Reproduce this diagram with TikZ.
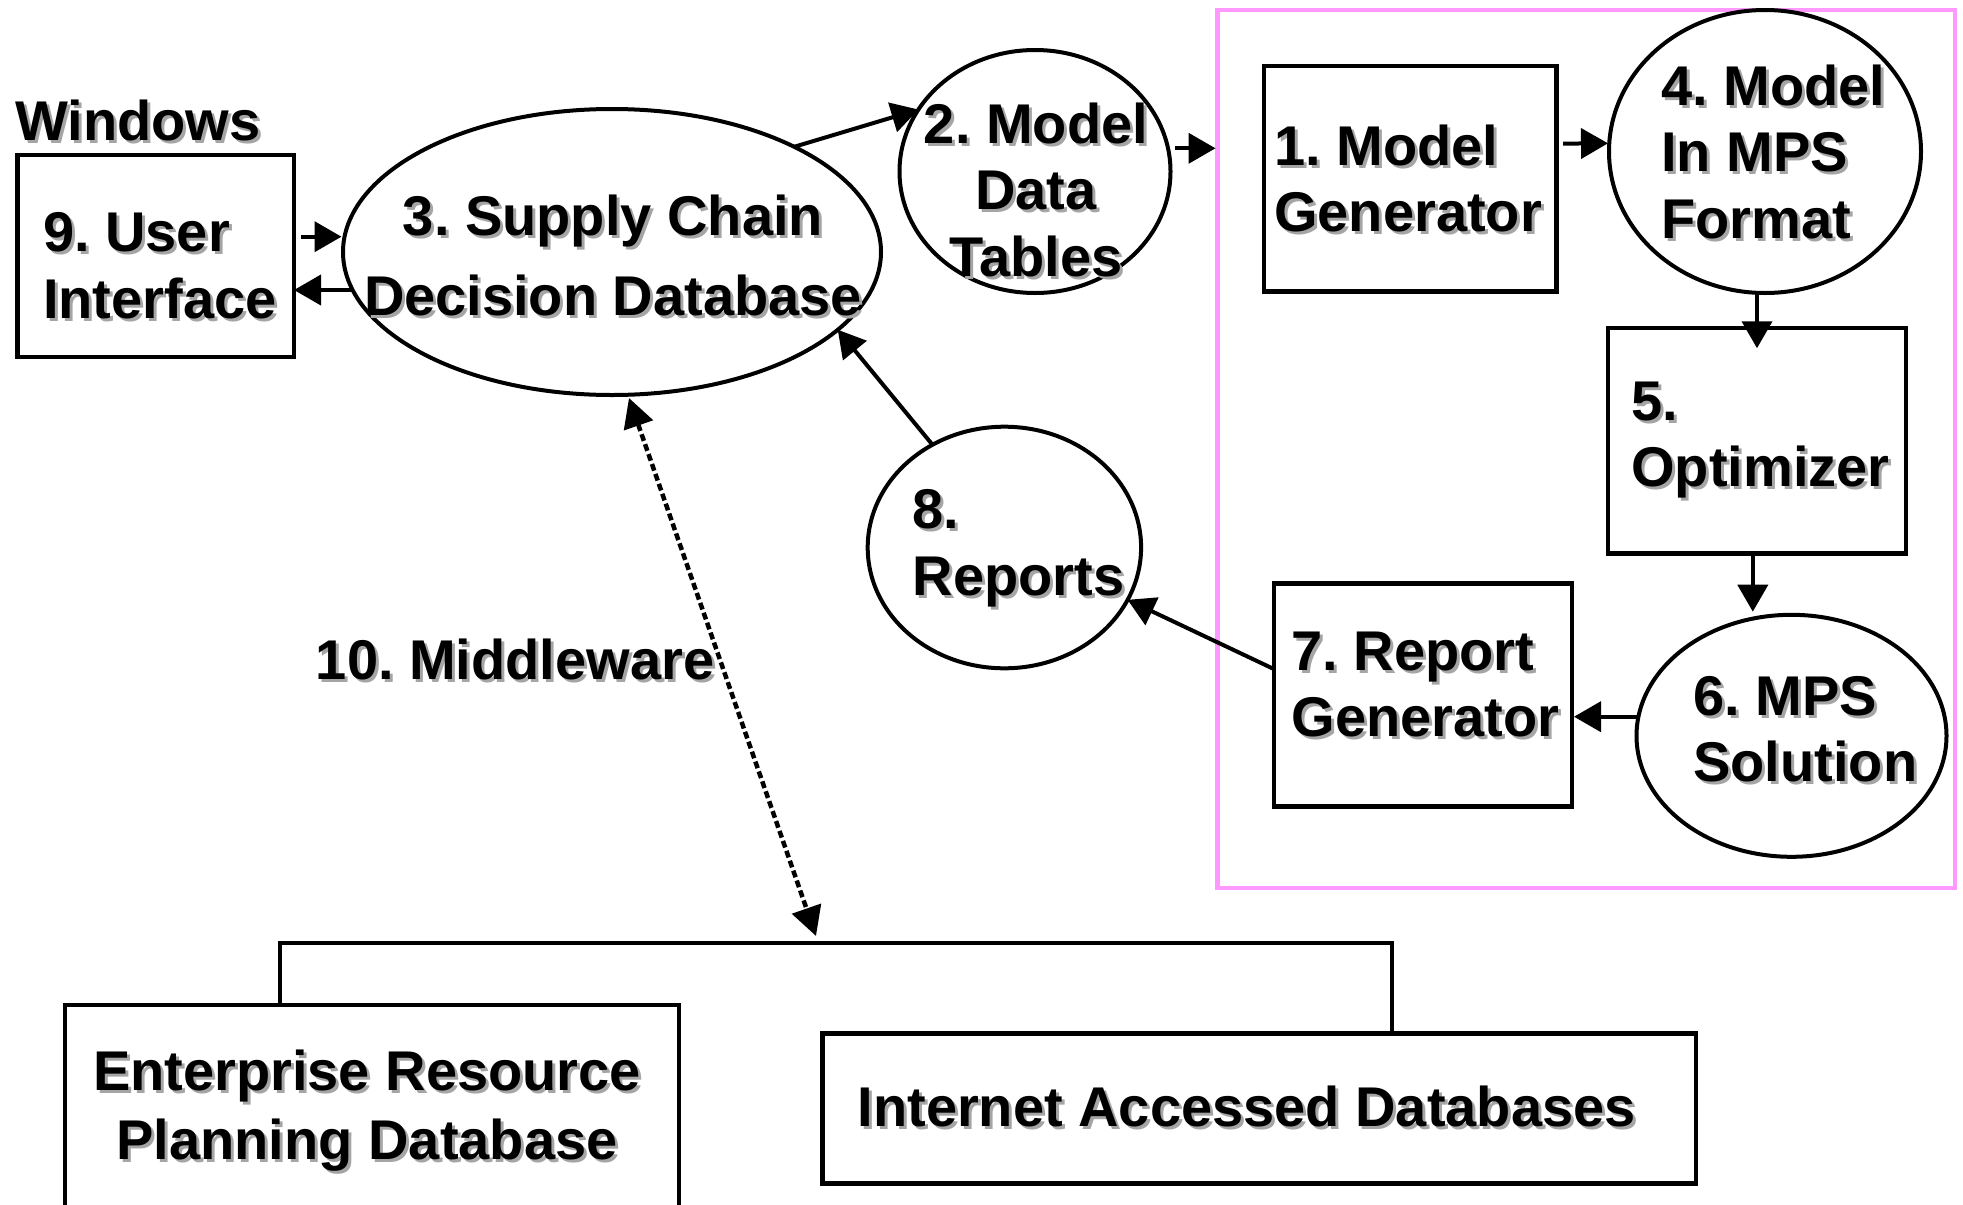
\documentclass[tikz,border=0pt]{standalone}
\usepackage{fontspec}
\setmainfont{Liberation Sans}
\usetikzlibrary{shapes.geometric,arrows.meta}
\definecolor{frame}{RGB}{255,153,255}
\definecolor{shade}{RGB}{165,165,165}
\frenchspacing
% text with a grey drop shadow
\newcommand\shd[1]{\rlap{\kern3pt\textcolor{shade}{\raisebox{-3pt}{#1}}}#1}
\tikzset{
  box/.style={draw, line width=4.5pt, inner sep=0pt, outer sep=0pt},
  oval/.style={draw, ellipse, line width=4pt, inner sep=0pt, outer sep=0pt},
  txt/.style={font=\fontsize{56}{66.5}\selectfont\bfseries, inner sep=0pt, align=left},
  arr/.style={line width=4pt, -{Triangle[length=27pt,width=30pt]}},
  dual/.style={line width=4.5pt, dash pattern=on 7pt off 3.5pt,
    {Triangle[length=29pt,width=30pt]}-{Triangle[length=29pt,width=30pt]}}
}
\begin{document}
\begin{tikzpicture}[x=1pt,y=-1pt]
\useasboundingbox (0,0) rectangle (1963,1205);
\clip (0,0) rectangle (1963,1205);
\fill[white] (0,0) rectangle (1963,1205);

% optimisation subsystem frame
\node[draw=frame, line width=4.5pt, inner sep=0pt, outer sep=0pt,
      minimum width=737.4pt, minimum height=878pt] (core) at (1586.3,449) {};

% shapes
\node[box,  minimum width=276.5pt, minimum height=202pt]   (b9)   at (155.75,256) {};
\node[oval, minimum width=538pt,   minimum height=286pt]   (e3)   at (612,252) {};
\node[oval, minimum width=271pt,   minimum height=243pt]   (e2)   at (1035,171.5) {};
\node[box,  minimum width=292.7pt, minimum height=225.7pt] (b1)   at (1410.2,178.8) {};
\node[oval, minimum width=312pt,   minimum height=283pt]   (e4)   at (1765,151.5) {};
\node[box,  minimum width=298pt,   minimum height=225.3pt] (b5)   at (1757,440.6) {};
\node[oval, minimum width=310pt,   minimum height=242pt]   (e6)   at (1791.5,735.8) {};
\node[box,  minimum width=298pt,   minimum height=223.4pt] (b7)   at (1422.8,695) {};
\node[oval, minimum width=273.4pt, minimum height=241.6pt] (e8)   at (1004.4,547.5) {};
\node[box,  minimum width=614pt,   minimum height=255pt]   (erp)  at (372,1132.5) {};
\node[box,  minimum width=873.7pt, minimum height=150pt]   (inet) at (1259.2,1108.3) {};

% labels (anchored on the baseline of their last line)
\node[txt, anchor=base west] (win) at (15,140) {\shd{Windows}};
\node[txt, anchor=base west] (t9) at (43,318.3) {\shd{9. User}\\\shd{Interface}};
\node[txt, font=\fontsize{56}{80}\selectfont\bfseries, align=center, anchor=base] (t3) at (613,315)
  {\shd{3. Supply Chain}\\\shd{Decision Database}};
\node[txt, align=center, anchor=base] (t2) at (1036,276) {\shd{2. Model}\\\shd{Data}\\\shd{Tables}};
\node[txt, anchor=base west] (t1) at (1274,231.7) {\shd{1. Model}\\\shd{Generator}};
\node[txt, anchor=base west] (t4) at (1661,238.3) {\shd{4. Model}\\\shd{In MPS}\\\shd{Format}};
\node[txt, anchor=base west] (t5) at (1631,486.7) {\shd{5.}\\\shd{Optimizer}};
\node[txt, anchor=base west] (t6) at (1693,781.7) {\shd{6. MPS}\\\shd{Solution}};
\node[txt, anchor=base west] (t7) at (1291.4,736.7) {\shd{7. Report}\\\shd{Generator}};
\node[txt, anchor=base west] (t8) at (912.5,595) {\shd{8.}\\\shd{Reports}};
\node[txt, anchor=base west] (t10) at (315.7,679) {\shd{10. Middleware}};
\node[txt, font=\fontsize{56}{68.5}\selectfont\bfseries, align=center, anchor=base] (terp) at (367,1159)
  {\shd{Enterprise Resource}\\\shd{Planning Database}};
\node[txt, anchor=base west] (tnet) at (857.4,1126.7) {\shd{Internet Accessed Databases}};

% data flows
\draw[arr] ([shift={(7,-19.3)}]b9.east) -- ([shift={(-1.5,-15.3)}]e3.west);
\draw[arr] ([shift={(9,38)}]e3.west) -- ([shift={(0,34)}]b9.east);
\draw[arr] (e3.30) -- (e2.152);
\draw[arr] ([shift={(4.5,-23.2)}]e2.east) -- ([shift={(45,-23.2)}]e2.east);
\draw[arr] ([shift={(6.5,-35.2)}]b1.east) -- ([shift={(-1,-8.2)}]e4.west);
\draw[arr] ([shift={(-8,0)}]e4.south) -- ([shift={(0,20.3)}]b5.north);
\draw[arr] ([shift={(-4.2,0)}]b5.south) -- ([shift={(-38.7,-3.1)}]e6.north);
\draw[arr] ([shift={(0,-19.1)}]e6.west) -- ([shift={(2.2,21.7)}]b7.east);
\draw[arr] ([shift={(0,-26)}]b7.west) -- (e8.-23);
\draw[arr] (e8.125) -- (e3.-19);

% middleware bus to the external databases
\coordinate (bus) at (816,943);
\draw[line width=4pt] ([xshift=-92pt]erp.north) |- (bus) -| ([xshift=133pt]inet.north);
\draw[dual] ([shift={(17,3)}]e3.south) -- ([yshift=7pt]bus);
\end{tikzpicture}
\end{document}
